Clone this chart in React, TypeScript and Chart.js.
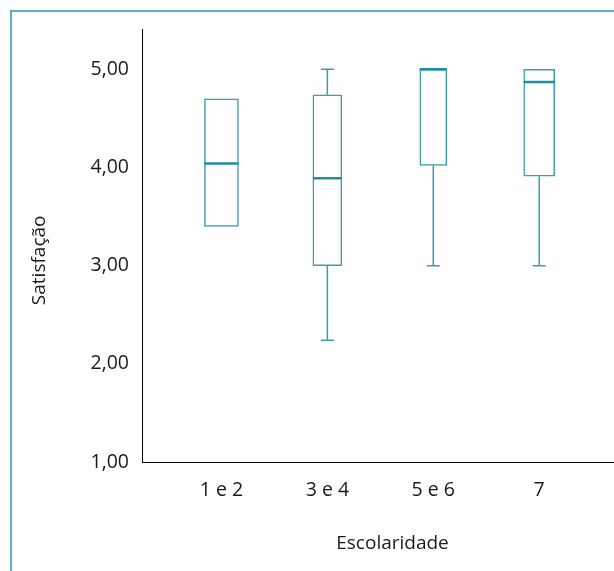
import React, { useEffect, useRef } from "react";
import { Chart, registerables } from "chart.js";

Chart.register(...registerables);

const categories = ["1 e 2", "3 e 4", "5 e 6", "7"];
const q1Values = [3.4, 3.0, 4.02, 3.91];
const q3Values = [4.7, 4.74, 5.0, 5.0];
const medianValues = [4.04, 3.89, 5.0, 4.87];
const minValues = [3.4, 2.24, 3.0, 3.0];
const maxValues = [4.7, 5.0, 5.0, 5.0];
const yTickValues = [1, 2, 3, 4, 5];

const boxWidthsPx = [34, 29, 27, 31];
const BOX_COLOR = "#3a9eaa";
const MEDIAN_COLOR = "#1f8f9c";
const FRAME_COLOR = "#5ab4bf";
const FONT = "'Open Sans', 'Noto Sans', sans-serif";

const whiskerPlugin = {
  id: "whiskers",
  afterDatasetsDraw(chart: any) {
    const { ctx } = chart;
    const xs = chart.scales.x;
    const ys = chart.scales.y;
    ctx.save();
    categories.forEach((_, i) => {
      const cx = xs.getPixelForValue(i + 1);
      const half = boxWidthsPx[i] / 2;
      const yQ1 = ys.getPixelForValue(q1Values[i]);
      const yQ3 = ys.getPixelForValue(q3Values[i]);
      const yMin = ys.getPixelForValue(minValues[i]);
      const yMax = ys.getPixelForValue(maxValues[i]);
      const capHalf = 6.5;
      ctx.strokeStyle = BOX_COLOR;
      ctx.lineWidth = 1.5;
      if (minValues[i] < q1Values[i]) {
        ctx.beginPath();
        ctx.moveTo(cx, yQ1);
        ctx.lineTo(cx, yMin);
        ctx.moveTo(cx - capHalf, yMin);
        ctx.lineTo(cx + capHalf, yMin);
        ctx.stroke();
      }
      if (maxValues[i] > q3Values[i]) {
        ctx.beginPath();
        ctx.moveTo(cx, yQ3);
        ctx.lineTo(cx, yMax);
        ctx.moveTo(cx - capHalf, yMax);
        ctx.lineTo(cx + capHalf, yMax);
        ctx.stroke();
      }
      const yMed = ys.getPixelForValue(medianValues[i]);
      ctx.strokeStyle = MEDIAN_COLOR;
      ctx.lineWidth = 2.5;
      ctx.beginPath();
      ctx.moveTo(cx - half, yMed);
      ctx.lineTo(cx + half, yMed);
      ctx.stroke();
    });
    ctx.restore();
  },
};

export default function App() {
  const ref = useRef<HTMLCanvasElement | null>(null);
  useEffect(() => {
    if (!ref.current) return;
    const chart = new Chart(ref.current, {
      type: "bar",
      data: {
        datasets: categories.map((c, i) => ({
          label: c,
          data: [{ x: i + 1, y: [q1Values[i], q3Values[i]] }] as any,
          barThickness: boxWidthsPx[i],
          grouped: false,
          backgroundColor: "#ffffff",
          borderColor: BOX_COLOR,
          borderWidth: 1.5,
          borderSkipped: false,
        })),
      },
      options: {
        animation: false,
        responsive: false,
        layout: { padding: { top: 17, left: 0, right: 0, bottom: 0 } },
        plugins: { legend: { display: false }, tooltip: { enabled: false } },
        scales: {
          x: {
            type: "linear",
            min: 0.25,
            max: 4.98,
            offset: false,
            grid: { display: false, drawTicks: false },
            border: { display: true, color: "#000", width: 1 },
            afterBuildTicks: (scale: any) => {
              scale.ticks = categories.map((_, i) => ({ value: i + 1 }));
            },
            afterFit: (scale: any) => {
              scale.height = 106;
              scale.paddingLeft = 0;
              scale.paddingRight = 0;
            },
            ticks: {
              autoSkip: false,
              maxRotation: 0,
              padding: 17,
              color: "#1a1a1a",
              font: { family: FONT, size: 19.5 },
              callback: (v: any) => categories[Math.round(Number(v)) - 1] ?? "",
            },
            title: {
              display: true,
              text: "Escolaridade",
              color: "#1a1a1a",
              font: { family: FONT, size: 19 },
              padding: { top: 0, bottom: 13.5 },
            },
          },
          y: {
            type: "linear",
            min: 1,
            max: 5.41,
            grid: { display: false, drawTicks: false },
            border: { display: true, color: "#000", width: 1 },
            afterBuildTicks: (scale: any) => {
              scale.ticks = yTickValues.map((v) => ({ value: v }));
            },
            afterFit: (scale: any) => {
              scale.width = 130;
              scale.paddingTop = 0;
              scale.paddingBottom = 0;
            },
            ticks: {
              padding: 13,
              color: "#1a1a1a",
              font: { family: FONT, size: 19.5 },
              callback: (v: any) => Number(v).toFixed(2).replace(".", ","),
            },
            title: {
              display: true,
              text: "Satisfação      ",
              color: "#1a1a1a",
              font: { family: FONT, size: 19 },
              padding: { top: 16, bottom: 0 },
            },
          },
        },
      },
      plugins: [whiskerPlugin],
    });
    return () => chart.destroy();
  }, []);

  return (
    <div
      style={{
        position: "fixed",
        left: 10,
        top: 10,
        width: 700,
        height: 700,
        borderLeft: `2px solid ${FRAME_COLOR}`,
        borderTop: `2px solid ${FRAME_COLOR}`,
        background: "#fff",
      }}
    >
      <canvas ref={ref} width={631} height={556} style={{ display: "block", width: 631, height: 556 }} />
    </div>
  );
}
